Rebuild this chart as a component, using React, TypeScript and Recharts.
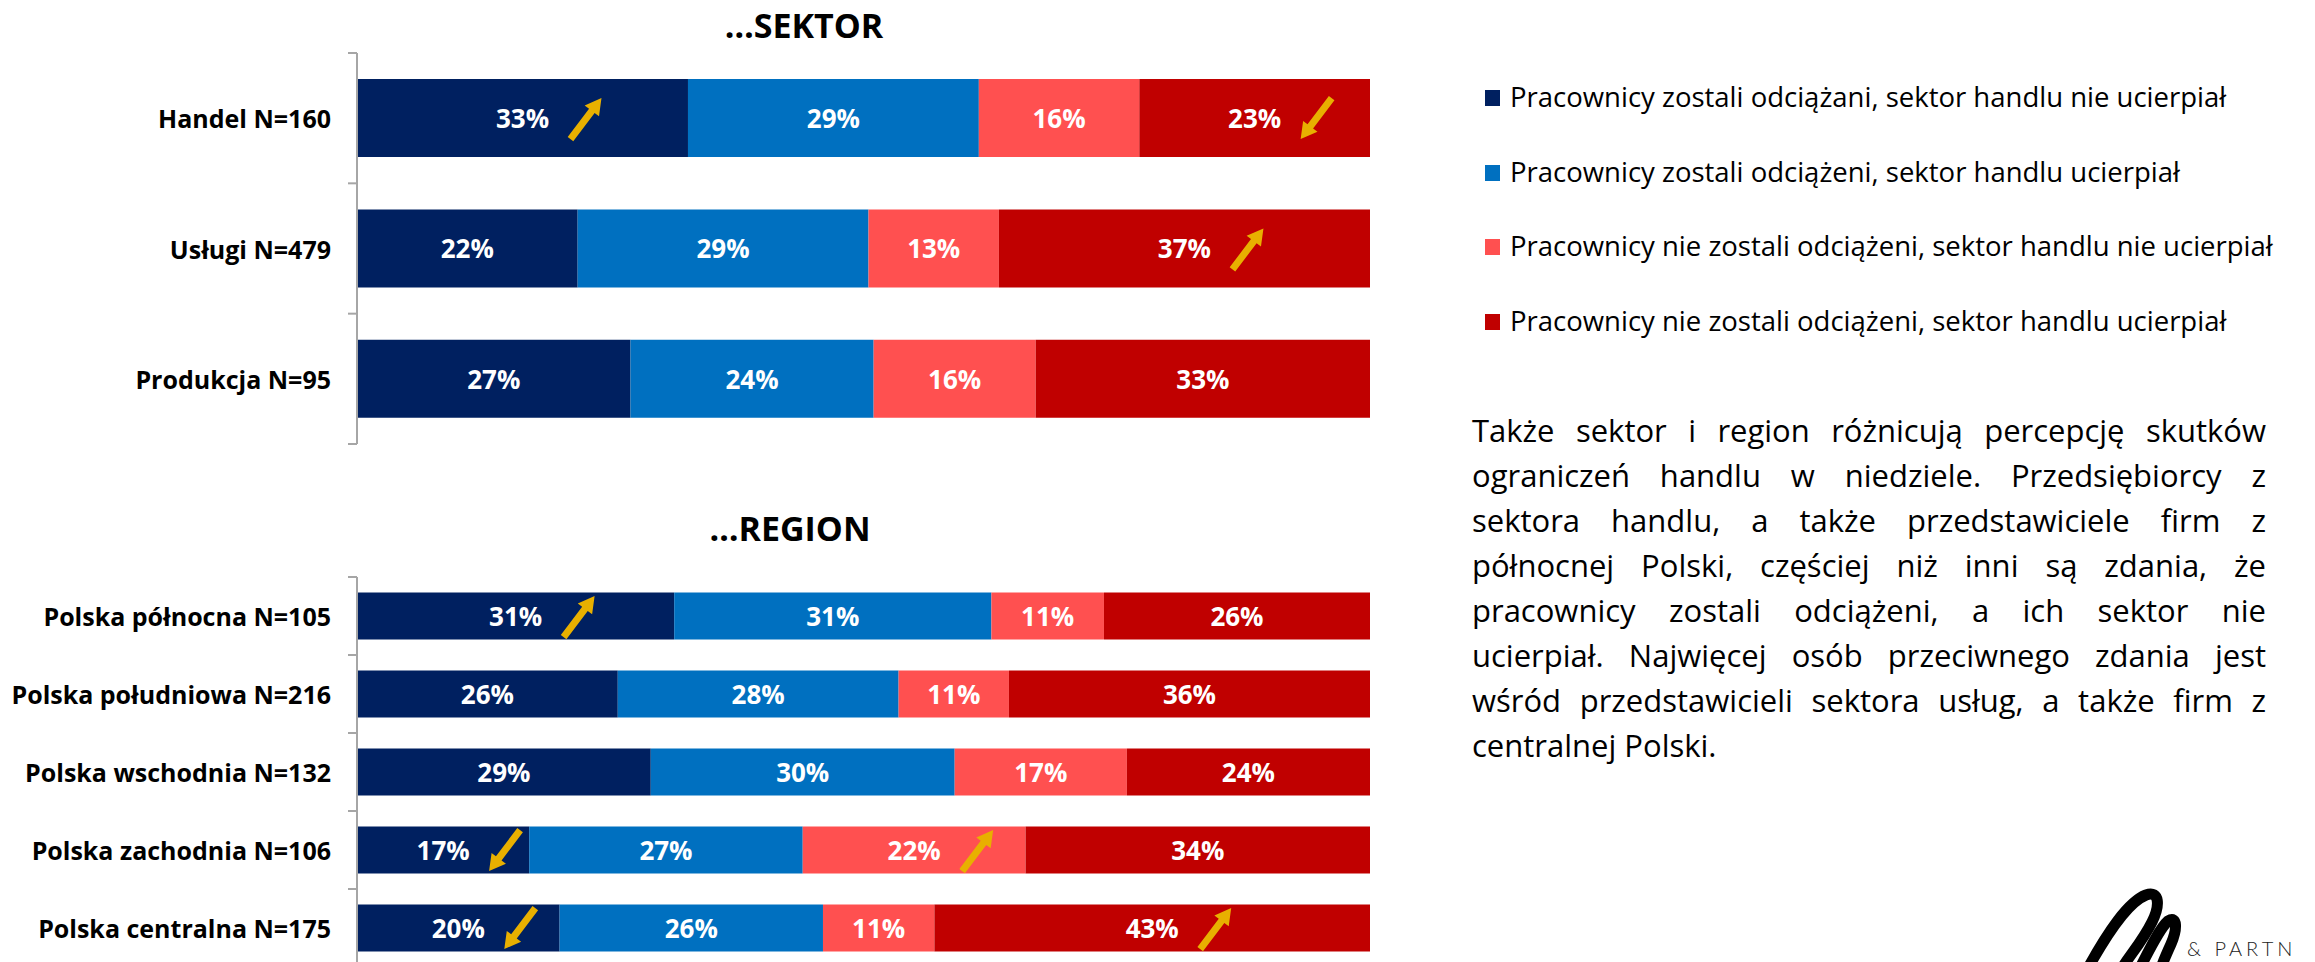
import React from 'react';
import { BarChart, Bar, XAxis, YAxis, LabelList } from 'recharts';

// ---------- DATA ----------
const seriesKeys = ['s1', 's2', 's3', 's4'];
const seriesNames = [
  'Pracownicy zostali odciążani, sektor handlu nie ucierpiał',
  'Pracownicy zostali odciążeni, sektor handlu ucierpiał',
  'Pracownicy nie zostali odciążeni, sektor handlu nie ucierpiał',
  'Pracownicy nie zostali odciążeni, sektor handlu ucierpiał',
];
const seriesColors = ['#002060', '#0070C0', '#FF5050', '#C00000'];

const sectorTitle = '…SEKTOR';
const sectorCategories = ['Handel N=160', 'Usługi N=479', 'Produkcja N=95'];
const sectorS1 = [33, 22, 27];
const sectorS2 = [29, 29, 24];
const sectorS3 = [16, 13, 16];
const sectorS4 = [23, 37, 33];
const sectorTrends = [
  ['up', '', '', 'down'],
  ['', '', '', 'up'],
  ['', '', '', ''],
];

const regionTitle = '…REGION';
const regionCategories = [
  'Polska północna N=105',
  'Polska południowa N=216',
  'Polska wschodnia N=132',
  'Polska zachodnia N=106',
  'Polska centralna N=175',
];
const regionS1 = [31, 26, 29, 17, 20];
const regionS2 = [31, 28, 30, 27, 26];
const regionS3 = [11, 11, 17, 22, 11];
const regionS4 = [26, 36, 24, 34, 43];
const regionTrends = [
  ['up', '', '', ''],
  ['', '', '', ''],
  ['', '', '', ''],
  ['down', '', 'up', ''],
  ['down', '', '', 'up'],
];

const paragraphLines = [
  'Także sektor i region różnicują percepcję skutków',
  'ograniczeń handlu w niedziele. Przedsiębiorcy z',
  'sektora handlu, a także przedstawiciele firm z',
  'północnej Polski, częściej niż inni są zdania, że',
  'pracownicy zostali odciążeni, a ich sektor nie',
  'ucierpiał. Najwięcej osób przeciwnego zdania jest',
  'wśród przedstawicieli sektora usług, a także firm z',
  'centralnej Polski.',
];

const logoText = '& PARTN';

// ---------- BUILD ----------
const buildRows = (cats: string[], a: number[], b: number[], c: number[], d: number[]) =>
  cats.map((name, i) => ({ name, s1: a[i], s2: b[i], s3: c[i], s4: d[i] }));

const sectorData = buildRows(sectorCategories, sectorS1, sectorS2, sectorS3, sectorS4);
const regionData = buildRows(regionCategories, regionS1, regionS2, regionS3, regionS4);

const FONT = "'Open Sans', 'Noto Sans', sans-serif";
const AXIS_X = 357;
const ARROW_COLOR = '#E8B000';

function Arrow({ cx, cy, dir }: { cx: number; cy: number; dir: string }) {
  const up = dir === 'up';
  const tail = up ? [cx + 48, cy + 21] : [cx + 77, cy - 20];
  const tip = up ? [cx + 79, cy - 20] : [cx + 46, cy + 21];
  const dx = tip[0] - tail[0];
  const dy = tip[1] - tail[1];
  const len = Math.sqrt(dx * dx + dy * dy);
  const ux = dx / len;
  const uy = dy / len;
  const nx = -uy;
  const ny = ux;
  const hw = 3.5;
  const headLen = 16;
  const headHw = 9;
  const bx = tip[0] - ux * headLen;
  const by = tip[1] - uy * headLen;
  const pts = [
    [tail[0] + nx * hw, tail[1] + ny * hw],
    [bx + nx * hw, by + ny * hw],
    [bx + nx * headHw, by + ny * headHw],
    [tip[0], tip[1]],
    [bx - nx * headHw, by - ny * headHw],
    [bx - nx * hw, by - ny * hw],
    [tail[0] - nx * hw, tail[1] - ny * hw],
  ];
  return <polygon points={pts.map((p) => p.join(',')).join(' ')} fill={ARROW_COLOR} />;
}

const makeLabel = (trends: string[][], seriesIdx: number) => (props: any) => {
  const x = Number(props.x);
  const y = Number(props.y);
  const w = Number(props.width);
  const h = Number(props.height);
  const cx = x + w / 2;
  const cy = y + h / 2;
  const idx = props.index;
  const t = trends[idx] ? trends[idx][seriesIdx] : '';
  return (
    <g>
      <text
        x={cx}
        y={cy}
        textAnchor="middle"
        dominantBaseline="central"
        fill="#FFFFFF"
        fontFamily={FONT}
        fontWeight={700}
        fontSize={26}
      >
        {`${props.value}%`}
      </text>
      {t ? <Arrow cx={cx} cy={cy} dir={t} /> : null}
    </g>
  );
};

function CatTick(props: any) {
  const { y, payload, index, band, count } = props;
  const yy = Number(y);
  return (
    <g>
      <text
        x={AXIS_X - 26}
        y={yy}
        textAnchor="end"
        dominantBaseline="central"
        fill="#000000"
        fontFamily={FONT}
        fontWeight={700}
        fontSize={25}
      >
        {payload.value}
      </text>
      <line x1={AXIS_X - 9} x2={AXIS_X} y1={yy - band / 2} y2={yy - band / 2} stroke="#A6A6A6" strokeWidth={2} />
      {index === count - 1 ? (
        <line x1={AXIS_X - 9} x2={AXIS_X} y1={yy + band / 2} y2={yy + band / 2} stroke="#A6A6A6" strokeWidth={2} />
      ) : null}
    </g>
  );
}

function Panel({
  data,
  trends,
  width,
  height,
  margin,
}: {
  data: any[];
  trends: string[][];
  width: number;
  height: number;
  margin: { top: number; right: number; bottom: number; left: number };
}) {
  const band = (height - margin.top - margin.bottom) / data.length;
  return (
    <BarChart
      width={width}
      height={height}
      data={data}
      layout="vertical"
      stackOffset="expand"
      margin={margin}
      barCategoryGap="20%"
    >
      <XAxis type="number" hide domain={[0, 1]} />
      <YAxis
        type="category"
        dataKey="name"
        width={AXIS_X - margin.left}
        axisLine={{ stroke: '#A6A6A6', strokeWidth: 2 }}
        tickLine={false}
        interval={0}
        tick={<CatTick band={band} count={data.length} />}
      />
      {seriesKeys.map((k, si) => (
        <Bar key={k} dataKey={k} stackId="a" fill={seriesColors[si]} isAnimationActive={false}>
          <LabelList dataKey={k} content={makeLabel(trends, si)} />
        </Bar>
      ))}
    </BarChart>
  );
}

const titleStyle = (cx: number, cy: number): React.CSSProperties => ({
  position: 'absolute',
  left: cx,
  top: cy,
  transform: 'translate(-50%, -50%)',
  fontFamily: FONT,
  fontWeight: 700,
  fontSize: 34,
  lineHeight: 1,
  whiteSpace: 'nowrap',
  color: '#000',
});

export default function App() {
  return (
    <div
      style={{
        position: 'absolute',
        left: 0,
        top: 0,
        width: 2315,
        height: 962,
        overflow: 'hidden',
        background: '#FFFFFF',
        fontFamily: FONT,
      }}
    >
      <div style={titleStyle(804, 25)}>{sectorTitle}</div>
      <div style={{ position: 'absolute', left: 0, top: 0 }}>
        <Panel data={sectorData} trends={sectorTrends} width={1400} height={460} margin={{ top: 53, right: 30, bottom: 16, left: 0 }} />
      </div>

      <div style={titleStyle(790, 528)}>{regionTitle}</div>
      <div style={{ position: 'absolute', left: 0, top: 460 }}>
        <Panel data={regionData} trends={regionTrends} width={1400} height={520} margin={{ top: 117, right: 30, bottom: 13, left: 0 }} />
      </div>

      {/* Legend */}
      {seriesNames.map((n, i) => {
        const cy = 98 + i * 74.7;
        return (
          <div key={n}>
            <div
              style={{
                position: 'absolute',
                left: 1485,
                top: cy - 8,
                width: 15,
                height: 16,
                background: seriesColors[i],
              }}
            />
            <div
              style={{
                position: 'absolute',
                left: 1510,
                top: cy - 21,
                height: 40,
                lineHeight: '40px',
                fontSize: 27.5,
                whiteSpace: 'nowrap',
                color: '#000',
              }}
            >
              {n}
            </div>
          </div>
        );
      })}

      {/* Paragraph */}
      {paragraphLines.map((line, i) => {
        const last = i === paragraphLines.length - 1;
        return (
          <div
            key={i}
            style={{
              position: 'absolute',
              left: 1472,
              top: 408 + i * 45,
              width: 794,
              height: 45,
              lineHeight: '45px',
              fontSize: 31,
              textAlign: last ? 'left' : 'justify',
              textAlignLast: last ? 'left' : 'justify',
              whiteSpace: 'nowrap',
              color: '#000',
            } as React.CSSProperties}
          >
            {line}
          </div>
        );
      })}

      {/* Logo */}
      <svg style={{ position: 'absolute', left: 2060, top: 880 }} width={255} height={82}>
        <g transform="translate(-2060,-880)">
          <path
            d="M2088 968 C2108 932 2128 902 2146 895 C2160 890 2160 906 2152 922 C2142 942 2130 955 2122 968"
            fill="none"
            stroke="#000"
            strokeWidth={11}
            strokeLinecap="round"
          />
          <path
            d="M2140 968 C2150 948 2160 928 2168 921 C2178 915 2177 930 2171 944 C2166 955 2163 962 2161 968"
            fill="none"
            stroke="#000"
            strokeWidth={11}
            strokeLinecap="round"
          />
          <text x={2187} y={956} fontFamily="Lato, sans-serif" fontWeight={300} fontSize={20} letterSpacing={4} fill="#222">
            {logoText}
          </text>
        </g>
      </svg>
    </div>
  );
}
